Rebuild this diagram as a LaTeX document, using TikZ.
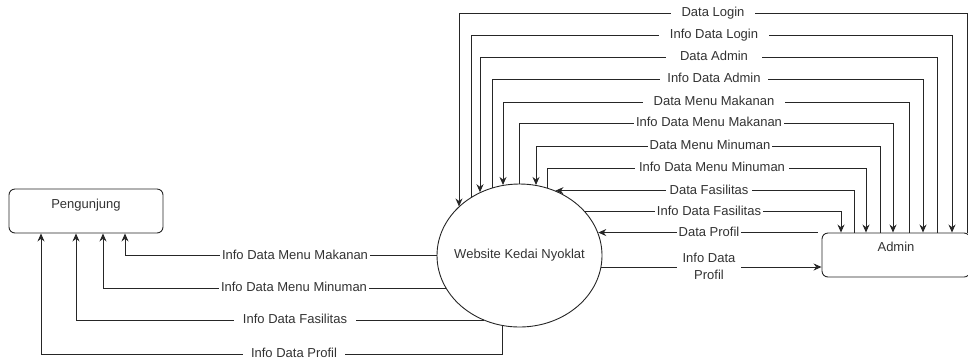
\documentclass[tikz,border=0pt]{standalone}
\usepackage{fontspec}
\setmainfont{Liberation Sans}
\usetikzlibrary{arrows.meta,shapes.geometric}
\begin{document}
\begin{tikzpicture}[x=1pt,y=-1pt,
  flow/.style={draw=black!85, line width=0.9pt, -{Stealth[length=8pt,width=7pt]}},
  lblbase/.style={fill=white, text=black!80, font=\fontsize{13}{16.5}\selectfont},
  lbl/.style={lblbase, text height=9.5pt, text depth=2.8pt, inner xsep=2pt, inner ysep=1pt},
  lblw/.style={lbl, inner xsep=11pt},
  entity/.style={draw=black!85, line width=0.9pt, rounded corners=6pt, inner sep=0pt},
  ttl/.style={text=black!80, font=\fontsize{13}{15}\selectfont}
]
\useasboundingbox (0,0) rectangle (968,360);

% entities and process
\node[entity, minimum width=154pt, minimum height=44pt,
  label={[ttl, anchor=north, yshift=-7pt]north:Pengunjung}] (peng) at (86,211) {};
\node[entity, minimum width=148pt, minimum height=44pt,
  label={[ttl, anchor=north, yshift=-6pt]north:Admin}] (admin) at (896,255) {};
\node[draw=black!85, line width=0.9pt, ellipse, minimum width=165pt, minimum height=143pt,
  inner sep=0pt, label={[ttl]center:Website Kedai Nyoklat}] (web) at (519.5,255.5) {};

% bend coordinates of the top flows
\coordinate (L1) at (459,13);  \coordinate (R1) at (967,13);
\coordinate (L2) at (471,35);  \coordinate (R2) at (952,35);
\coordinate (L3) at (480,57);  \coordinate (R3) at (937,57);
\coordinate (L4) at (492,79);  \coordinate (R4) at (923,79);
\coordinate (L5) at (503,102); \coordinate (R5) at (909,102);
\coordinate (L6) at (519,123); \coordinate (R6) at (893,123);
\coordinate (L7) at (536,146); \coordinate (R7) at (880,146);
\coordinate (L8) at (547,168); \coordinate (R8) at (866,168);
\coordinate (c9) at (854,0);
\coordinate (c10) at (841,0);
\coordinate (p1) at (125,0);
\coordinate (p2) at (103,0);
\coordinate (p3) at (76,0);
\coordinate (b4) at (41,354);
\coordinate (P12) at ([yshift=-12pt]admin.west);

% top flows
\draw[flow] (admin.north -| R1) -- (R1) -- (L1) -- (L1 |- web.141);
\draw[flow] (L2 |- web.130) -- (L2) -- (R2) -- (admin.north -| R2);
\draw[flow] (admin.north -| R3) -- (R3) -- (L3) -- (L3 |- web.122);
\draw[flow] (L4 |- web.112) -- (L4) -- (R4) -- (admin.north -| R4);
\draw[flow] (admin.north -| R5) -- (R5) -- (L5) -- (L5 |- web.103);
\draw[flow] (L6 |- web.90) -- (L6) -- (R6) -- (admin.north -| R6);
\draw[flow] (admin.north -| R7) -- (R7) -- (L7) -- (L7 |- web.77);
\draw[flow] (L8 |- web.68) -- (L8) -- (R8) -- (admin.north -| R8);

% middle flows
\draw[flow] (admin.north -| c9) |- (web.61);
\draw[flow] (web.34) -| (admin.north -| c10);
\draw[flow] ([xshift=-4pt]admin.north west) -- (admin.north west -| web.16);
\draw[flow] (web.352 |- P12) -- (P12);

% flows to Pengunjung
\draw[flow] (web.west) -| (peng.south -| p1);
\draw[flow] (web.204) -| (peng.south -| p2);
\draw[flow] (web.241) -| (peng.south -| p3);
\draw[flow] (web.256) |- (b4) -- (peng.south -| b4);

% labels
\node[lblw] (t1) at (713,13) {Data Login};
\node[lblw] (t2) at (714,35) {Info Data Login};
\node[lbl, inner xsep=14pt] (t3) at (714,57) {Data Admin};
\node[lbl, inner xsep=7pt] (t4) at (714,79) {Info Data Admin};
\node[lbl, inner xsep=11pt] (t5) at (714,102) {Data Menu Makanan};
\node[lbl] (t6) at (709,123) {Info Data Menu Makanan};
\node[lbl] (t7) at (710,146) {Data Menu Minuman};
\node[lbl, inner xsep=4pt] (t8) at (712,168) {Info Data Menu Minuman};
\node[lbl, inner xsep=4pt] (t9) at (709,191) {Data Fasilitas};
\node[lbl] (t10) at (709,212) {Info Data Fasilitas};
\node[lbl] (t11) at (709,233) {Data Profil};
\node[lblbase, align=center, inner xsep=6pt, inner ysep=1pt] (t12) at (709,266.5) {Info Data\\Profil};
\node[lbl] (t13) at (295,256) {Info Data Menu Makanan};
\node[lbl] (t14) at (294,288) {Info Data Menu Minuman};
\node[lbl, inner xsep=9pt] (t15) at (295,320) {Info Data Fasilitas};
\node[lbl, inner xsep=8pt] (t16) at (294,354) {Info Data Profil};
\end{tikzpicture}
\end{document}
